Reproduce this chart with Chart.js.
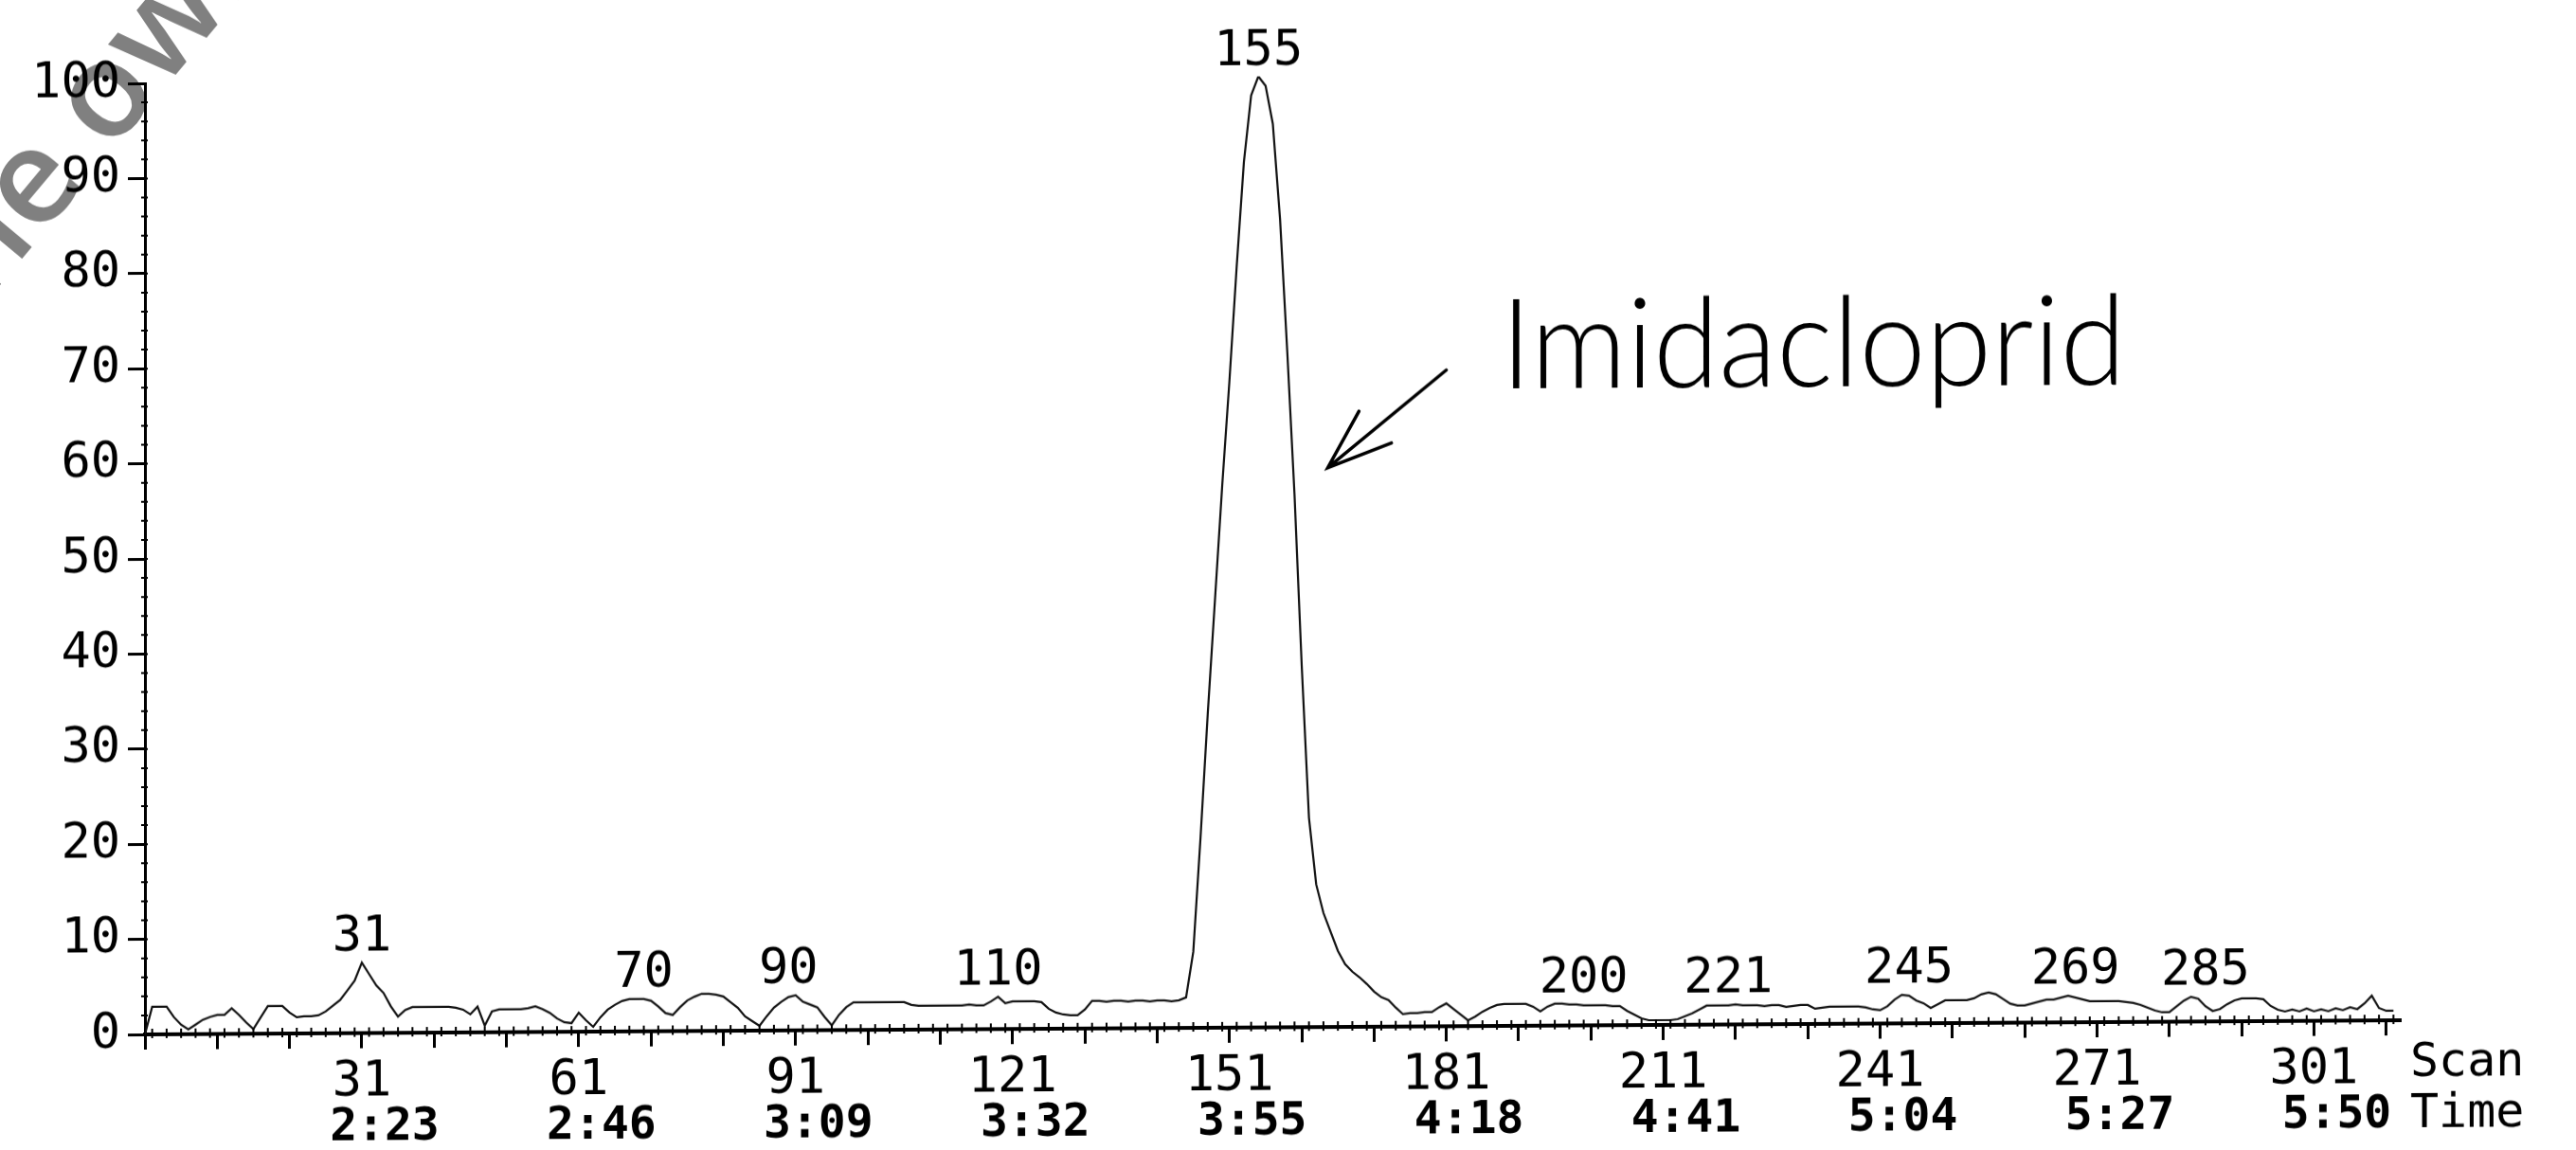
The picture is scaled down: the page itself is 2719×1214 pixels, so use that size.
<!DOCTYPE html>
<html>
<head>
<meta charset="utf-8">
<script src="https://cdn.jsdelivr.net/npm/chart.js@4/dist/chart.umd.min.js"></script>
<style>
  html, body { margin: 0; padding: 0; background: #fff; }
  #chromatogram { display: block; transform: skewY(-0.36deg); transform-origin: 153px 1092px; }
</style>
</head>
<body>
<canvas id="chromatogram" width="2719" height="1214"></canvas>
<script>
// relative intensity (%) for scans 1..312
const intensity = [
  0, 2.9, 2.9, 2.9, 1.8, 1.0, 0.5, 1.0, 1.5, 1.8,
  2.0, 2.0, 2.7, 2.0, 1.2, 0.5, 1.7, 2.9, 2.9, 2.9,
  2.2, 1.7, 1.8, 1.8, 1.9, 2.3, 2.9, 3.5, 4.5, 5.5,
  7.4, 6.2, 5.0, 4.2, 2.8, 1.7, 2.4, 2.7, 2.7, 2.7,
  2.7, 2.7, 2.7, 2.6, 2.4, 1.9, 2.7, 0.7, 2.2, 2.4,
  2.4, 2.4, 2.4, 2.5, 2.7, 2.4, 2.0, 1.4, 1.0, 0.9,
  2.0, 1.2, 0.5, 1.5, 2.3, 2.8, 3.2, 3.4, 3.4, 3.4,
  3.2, 2.6, 1.9, 1.7, 2.5, 3.2, 3.6, 3.9, 3.9, 3.8,
  3.6, 3.0, 2.4, 1.5, 1.0, 0.5, 1.5, 2.4, 3.0, 3.5,
  3.7, 3.0, 2.7, 2.4, 1.4, 0.5, 1.6, 2.4, 2.9, 2.9,
  2.9, 2.9, 2.9, 2.9, 2.9, 2.9, 2.6, 2.5, 2.5, 2.5,
  2.5, 2.5, 2.5, 2.5, 2.6, 2.5, 2.5, 2.9, 3.4, 2.7,
  2.9, 2.9, 2.9, 2.9, 2.8, 2.1, 1.7, 1.5, 1.4, 1.4,
  2.0, 2.9, 2.9, 2.8, 2.9, 2.9, 2.8, 2.9, 2.9, 2.8,
  2.9, 2.9, 2.8, 2.9, 3.2, 8, 20, 33, 45, 57,
  68, 80, 91, 98, 100, 99, 95, 85, 71, 56,
  38, 22, 15, 12, 10, 8, 6.6, 5.8, 5.2, 4.5,
  3.7, 3.1, 2.8, 2.0, 1.3, 1.4, 1.4, 1.5, 1.5, 2.0,
  2.4, 1.8, 1.2, 0.6, 1.0, 1.5, 1.9, 2.2, 2.3, 2.3,
  2.3, 2.3, 2.0, 1.5, 2.0, 2.3, 2.3, 2.2, 2.2, 2.1,
  2.1, 2.1, 2.1, 2.0, 2.0, 1.5, 1.1, 0.7, 0.5, 0.5,
  0.5, 0.5, 0.6, 0.9, 1.2, 1.6, 2.0, 2.0, 2.0, 2.0,
  2.1, 2.0, 2.0, 2.0, 1.9, 2.0, 2.0, 1.8, 1.9, 2.0,
  2.0, 1.6, 1.7, 1.8, 1.8, 1.8, 1.8, 1.8, 1.7, 1.5,
  1.4, 1.8, 2.5, 3.0, 2.9, 2.4, 2.1, 1.6, 2.0, 2.4,
  2.4, 2.4, 2.4, 2.6, 3.0, 3.2, 3.0, 2.5, 2.0, 1.8,
  1.8, 2.0, 2.2, 2.4, 2.4, 2.6, 2.8, 2.6, 2.4, 2.2,
  2.2, 2.2, 2.2, 2.2, 2.1, 2.0, 1.8, 1.5, 1.2, 1.0,
  1.0, 1.6, 2.2, 2.6, 2.4, 1.6, 1.1, 1.3, 1.8, 2.2,
  2.4, 2.4, 2.4, 2.3, 1.6, 1.2, 1.0, 1.2, 1.0, 1.3,
  1.0, 1.2, 1.0, 1.3, 1.1, 1.4, 1.2, 1.8, 2.6, 1.3,
  1.0, 1.0
];
const firstScan = 1;

const scanTicks = [31, 61, 91, 121, 151, 181, 211, 241, 271, 301];
const timeLabels = ["2:23", "2:46", "3:09", "3:32", "3:55", "4:18", "4:41", "5:04", "5:27", "5:50"];
const scanMinorTicks = [1, 11, 21, 31, 41, 51, 61, 71, 81, 91, 101, 111, 121, 131, 141, 151, 161, 171, 181, 191, 201, 211, 221, 231, 241, 251, 261, 271, 281, 291, 301, 311];
const yTicks = [0, 10, 20, 30, 40, 50, 60, 70, 80, 90, 100];

// peak labels printed by the instrument and the scan they sit over
const peakLabels = ["31", "70", "90", "110", "155", "200", "221", "245", "269", "285"];
const peakLabelScans = [31, 70, 90, 119, 155, 200, 220, 245, 268, 286];

const points = intensity.map((v, i) => ({ x: firstScan + i, y: v }));
const monoFont = '"DejaVu Sans Mono", "Liberation Mono", monospace';

const paperPlugin = {
  id: "paper",
  beforeDraw: (chart) => {
    const c = chart.ctx;
    c.save();
    c.fillStyle = "#fff";
    c.fillRect(0, 0, chart.width, chart.height);
    // scanned copyright watermark in the top left corner
    const ang = (-50 * Math.PI) / 180;
    c.font = '600 140px "Open Sans", sans-serif';
    const lead = c.measureText("the ").width;
    const ox = 116 - Math.cos(ang) * lead;
    const oy = 162 - Math.sin(ang) * lead;
    c.translate(ox, oy);
    c.rotate(ang);
    c.fillStyle = "#808080";
    c.textBaseline = "alphabetic";
    c.fillText("the owner", 0, 0);
    c.restore();
  },
  afterDraw: (chart) => {
    const c = chart.ctx;
    const xs = chart.scales.x;
    const ys = chart.scales.y;
    const area = chart.chartArea;
    c.save();
    c.strokeStyle = "#000";
    c.lineWidth = 2;
    // fine ticks along both axes
    c.beginPath();
    for (let s = 2; s <= 312; s += 2) {
      const px = xs.getPixelForValue(s);
      c.moveTo(px, area.bottom + 4);
      c.lineTo(px, area.bottom - 6);
    }
    for (let v = 2; v < 100; v += 2) {
      const py = ys.getPixelForValue(v);
      c.moveTo(area.left - 4, py);
      c.lineTo(area.left + 3, py);
    }
    c.stroke();

    // retention time row under the scan numbers
    c.fillStyle = "#000";
    c.textAlign = "center";
    c.textBaseline = "middle";
    c.font = "bold 48px " + monoFont;
    scanTicks.forEach((s, i) => {
      c.fillText(timeLabels[i], xs.getPixelForValue(s) + 24, area.bottom + 101);
    });
    c.textAlign = "left";
    c.font = "50px " + monoFont;
    c.fillText("Scan", area.right + 10, area.bottom + 46);
    c.fillText("Time", area.right + 10, area.bottom + 100);

    // peak labels above local maxima
    c.textAlign = "center";
    c.font = "52px " + monoFont;
    peakLabels.forEach((txt, i) => {
      const s = peakLabelScans[i];
      let top = 0;
      for (let k = s - 2; k <= s + 2; k++) {
        const v = intensity[k - firstScan];
        if (v !== undefined && v > top) top = v;
      }
      c.fillText(txt, xs.getPixelForValue(s), ys.getPixelForValue(top) - 26);
    });

    // handwritten annotation
    c.font = '300 132px Lato, "Open Sans", sans-serif';
    c.textAlign = "left";
    c.textBaseline = "alphabetic";
    c.fillText("Imidacloprid", xs.getPixelForValue(188.5), ys.getPixelForValue(67), 660);
    const tail = { x: xs.getPixelForValue(181), y: ys.getPixelForValue(69) };
    const tip = { x: xs.getPixelForValue(164.6), y: ys.getPixelForValue(58.8) };
    c.lineWidth = 3.5;
    c.lineCap = "round";
    c.beginPath();
    c.moveTo(tail.x, tail.y);
    c.lineTo(tip.x, tip.y);
    const a1 = (-61 * Math.PI) / 180;
    const a2 = (-21 * Math.PI) / 180;
    c.moveTo(tip.x + Math.cos(a1) * 68, tip.y + Math.sin(a1) * 68);
    c.lineTo(tip.x, tip.y);
    c.lineTo(tip.x + Math.cos(a2) * 72, tip.y + Math.sin(a2) * 72);
    c.stroke();
    c.restore();
  },
};

new Chart(document.getElementById("chromatogram"), {
  type: "line",
  data: {
    datasets: [
      {
        data: points,
        borderColor: "#111",
        borderWidth: 2.2,
        pointRadius: 0,
        tension: 0,
        fill: false,
      },
    ],
  },
  options: {
    responsive: false,
    animation: false,
    layout: { padding: { left: 0, top: 88, right: 185, bottom: 0 } },
    plugins: { legend: { display: false }, tooltip: { enabled: false } },
    scales: {
      x: {
        type: "linear",
        min: 1,
        max: 313,
        afterBuildTicks: (s) => {
          s.ticks = scanMinorTicks.map((v) => ({ value: v }));
        },
        afterFit: (s) => {
          s.height = 122;
        },
        border: { color: "#000", width: 4 },
        grid: { drawOnChartArea: false, drawTicks: true, tickLength: 16, tickColor: "#000", tickWidth: 3 },
        ticks: {
          autoSkip: false,
          maxRotation: 0,
          padding: 5,
          color: "#000",
          font: { family: monoFont, size: 52 },
          callback: (v) => (scanTicks.includes(v) ? String(v) : ""),
        },
      },
      y: {
        min: 0,
        max: 100,
        afterBuildTicks: (s) => {
          s.ticks = yTicks.map((v) => ({ value: v }));
        },
        afterFit: (s) => {
          s.width = 153;
        },
        border: { color: "#000", width: 3 },
        grid: { drawOnChartArea: false, drawTicks: true, tickLength: 18, tickColor: "#000", tickWidth: 3 },
        ticks: {
          padding: 8,
          color: "#000",
          font: { family: monoFont, size: 52 },
        },
      },
    },
  },
  plugins: [paperPlugin],
});
</script>
</body>
</html>
